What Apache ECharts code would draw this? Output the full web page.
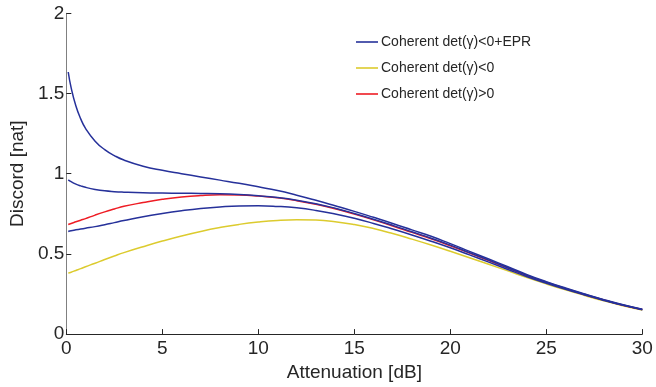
<!DOCTYPE html>
<html>
<head>
<meta charset="utf-8">
<script src="https://cdn.jsdelivr.net/npm/echarts@6/dist/echarts.min.js"></script>
<style>
  html, body { margin: 0; padding: 0; background: #fff; }
  #chart { width: 656px; height: 387px; }
</style>
</head>
<body>
<div id="chart"></div>
<script>
// Attenuation values (dB) shared by every curve
var attenuation = [0.1, 0.25, 0.5, 0.75, 1, 1.5, 2, 2.5, 3, 4, 5, 6, 7, 8, 9, 10, 11, 12, 13, 14,
  15, 16, 17, 18, 19, 20, 21, 22, 23, 24, 25, 26, 27, 28, 29, 30];

// Discord (nat) for each coherent-state configuration
var eprHigh = [1.634, 1.537, 1.422, 1.342, 1.283, 1.203, 1.15, 1.113, 1.085, 1.047, 1.021, 1.0,
  0.98, 0.96, 0.94, 0.918, 0.895, 0.866, 0.834, 0.80, 0.765, 0.728, 0.69, 0.65, 0.61, 0.564,
  0.516, 0.468, 0.42, 0.371, 0.327, 0.287, 0.25, 0.215, 0.183, 0.155];
var eprMid = [0.962, 0.95, 0.935, 0.924, 0.915, 0.902, 0.893, 0.888, 0.885, 0.881, 0.879, 0.878,
  0.877, 0.875, 0.87, 0.862, 0.851, 0.835, 0.813, 0.785, 0.752, 0.716, 0.678, 0.638, 0.598,
  0.555, 0.508, 0.461, 0.414, 0.366, 0.323, 0.284, 0.248, 0.213, 0.181, 0.154];
var eprLow = [0.64, 0.645, 0.65, 0.655, 0.66, 0.67, 0.682, 0.695, 0.708, 0.732, 0.752, 0.769,
  0.783, 0.793, 0.799, 0.80, 0.796, 0.787, 0.771, 0.749, 0.722, 0.69, 0.655, 0.618, 0.579,
  0.538, 0.494, 0.449, 0.403, 0.358, 0.317, 0.279, 0.244, 0.21, 0.179, 0.152];
var detNeg = [0.38, 0.386, 0.397, 0.408, 0.42, 0.442, 0.465, 0.487, 0.508, 0.545, 0.58, 0.612,
  0.64, 0.664, 0.684, 0.699, 0.709, 0.713, 0.711, 0.701, 0.683, 0.658, 0.627, 0.592, 0.555,
  0.516, 0.476, 0.435, 0.394, 0.352, 0.313, 0.276, 0.241, 0.207, 0.177, 0.15];
var detPos = [0.683, 0.69, 0.70, 0.71, 0.72, 0.742, 0.762, 0.78, 0.797, 0.82, 0.84, 0.855,
  0.864, 0.868, 0.867, 0.861, 0.85, 0.832, 0.809, 0.781, 0.748, 0.712, 0.674, 0.634, 0.594,
  0.551, 0.505, 0.458, 0.411, 0.364, 0.321, 0.282, 0.246, 0.212, 0.18, 0.153];

var xTicks = [0, 5, 10, 15, 20, 25, 30];
var yTicks = [0, 0.5, 1, 1.5, 2];

var NAME_EPR = 'Coherent det(\u03b3)<0+EPR';
var NAME_NEG = 'Coherent det(\u03b3)<0';
var NAME_POS = 'Coherent det(\u03b3)>0';

var BLUE = '#26319a';
var YELLOW = '#dccb2e';
var RED = '#ee1c24';
var TEXT = '#262626';
var FONT = 'Liberation Sans, Arial, sans-serif';

function pairs(ys) {
  return attenuation.map(function (x, i) { return [x, ys[i]]; });
}

function curve(name, ys, color) {
  return {
    name: name,
    type: 'line',
    data: pairs(ys),
    smooth: 0.5,
    showSymbol: false,
    symbol: 'none',
    lineStyle: { color: color, width: 1.5 },
    itemStyle: { color: color },
    emphasis: { disabled: true },
    animation: false
  };
}

var chart = echarts.init(document.getElementById('chart'), null, { renderer: 'canvas' });

chart.setOption({
  backgroundColor: '#ffffff',
  textStyle: { fontFamily: FONT, color: TEXT },
  grid: { left: 64.5, right: 13.7, top: 13.3, bottom: 42, containLabel: false },
  legend: {
    data: [NAME_EPR, NAME_NEG, NAME_POS],
    orient: 'vertical',
    left: 356,
    top: 35,
    padding: 0,
    icon: 'rect',
    itemWidth: 22,
    itemHeight: 1.6,
    itemGap: 12,
    selectedMode: false,
    textStyle: { fontFamily: FONT, fontSize: 14, color: TEXT, padding: [0, 0, 0, -2] }
  },
  xAxis: {
    type: 'value',
    min: xTicks[0],
    max: xTicks[xTicks.length - 1],
    interval: xTicks[1] - xTicks[0],
    name: 'Attenuation [dB]',
    nameLocation: 'middle',
    nameGap: 24,
    nameTextStyle: { fontFamily: FONT, fontSize: 19, color: TEXT },
    axisLine: { show: true, onZero: false, lineStyle: { color: '#262626', width: 1 } },
    axisTick: { show: true, inside: true, length: 5, lineStyle: { color: '#262626' } },
    axisLabel: { fontFamily: FONT, fontSize: 19, color: TEXT, margin: 5 },
    splitLine: { show: false }
  },
  yAxis: {
    type: 'value',
    min: yTicks[0],
    max: yTicks[yTicks.length - 1],
    interval: yTicks[1] - yTicks[0],
    name: 'Discord [nat]',
    nameLocation: 'middle',
    nameGap: 39,
    nameTextStyle: { fontFamily: FONT, fontSize: 19, color: TEXT },
    axisLine: { show: true, onZero: false, lineStyle: { color: '#808080', width: 1 } },
    axisTick: { show: true, inside: true, length: 5, lineStyle: { color: '#262626' } },
    axisLabel: { fontFamily: FONT, fontSize: 19, color: TEXT, margin: 2 },
    splitLine: { show: false }
  },
  series: [
    curve(NAME_NEG, detNeg, YELLOW),
    curve(NAME_POS, detPos, RED),
    curve(NAME_EPR, eprLow, BLUE),
    curve(NAME_EPR, eprMid, BLUE),
    curve(NAME_EPR, eprHigh, BLUE)
  ]
});
</script>
</body>
</html>
